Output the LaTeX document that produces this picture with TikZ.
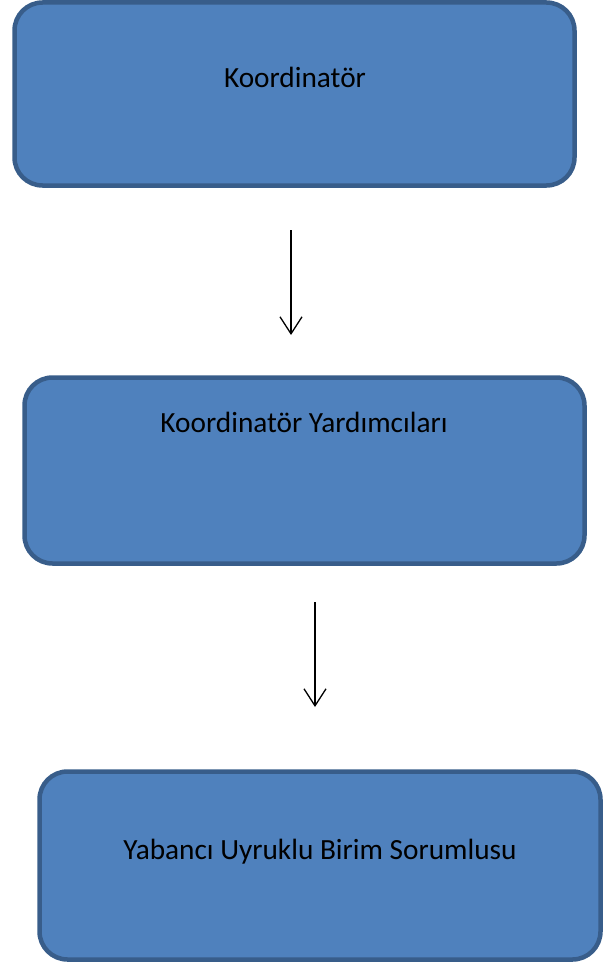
\documentclass[tikz,border=0pt]{standalone}
\usepackage{fontspec}
\setmainfont{Carlito}
\usetikzlibrary{arrows.meta}
\definecolor{boxfill}{HTML}{4F81BD}
\definecolor{boxline}{HTML}{385D8A}
\tikzset{
  box/.style={draw=boxline, fill=boxfill, line width=4.5pt, rounded corners=28pt, inner sep=0pt},
  lbl/.style={font=\fontsize{29.3}{34}\selectfont, text=black, inner sep=0pt},
  conn/.style={line width=1.3pt, -{Straight Barb[length=17pt,width=22pt,line width=1.3pt]}}
}
\begin{document}
\begin{tikzpicture}[x=1pt,y=-1pt]
\useasboundingbox (0,0) rectangle (613,963);
\node[box, minimum width=560pt, minimum height=183pt] (b1) at (294.5,94) {};
\node[box, minimum width=560pt, minimum height=186pt] (b2) at (304.5,470.5) {};
\node[box, minimum width=561pt, minimum height=188pt] (b3) at (320,865.5) {};
\node[lbl] (t1) at (295,77) {Koordinatör};
\node[lbl] (t2) at (304,422) {Koordinatör Yardımcıları};
\node[lbl] (t3) at (320,852) {Yabancı Uyruklu Birim Sorumlusu};
\coordinate (a1s) at (291,230);
\coordinate (a1e) at (291,335);
\coordinate (a2s) at (315,602);
\coordinate (a2e) at (315,707);
\draw[conn] (a1s) -- (a1e);
\draw[conn] (a2s) -- (a2e);
\end{tikzpicture}
\end{document}
